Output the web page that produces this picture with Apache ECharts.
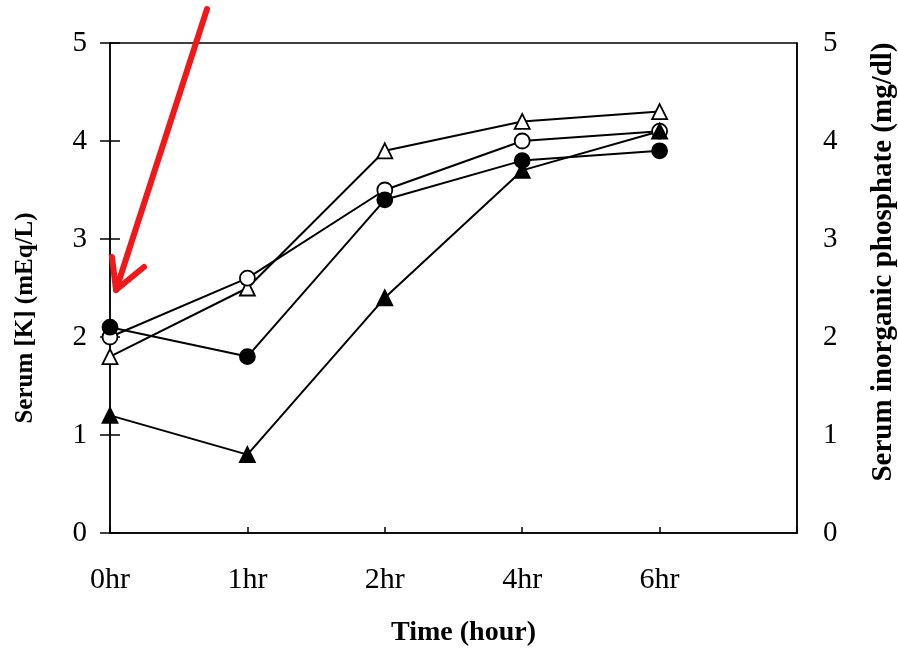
<!DOCTYPE html>
<html><head><meta charset="utf-8">
<script src="https://cdn.jsdelivr.net/npm/echarts@6/dist/echarts.min.js"></script>
<style>html,body{margin:0;padding:0;background:#fff}#c{width:898px;height:650px}</style>
</head><body><div id="c"></div>
<script>
var categories = ['0hr','1hr','2hr','4hr','6hr',''];
var openTriangle = [1.8, 2.5, 3.9, 4.2, 4.3];
var openCircle = [2.0, 2.6, 3.5, 4.0, 4.1];
var filledCircle = [2.1, 1.8, 3.4, 3.8, 3.9];
var filledTriangle = [1.2, 0.8, 2.4, 3.7, 4.1];
var yTicks = [0,1,2,3,4,5];

var font = '"Liberation Serif", "DejaVu Serif", serif';
function mk(name, data, symbol, filled) {
  return {
    name: name, type: 'line', data: data, symbol: symbol,
    symbolSize: 15,
    yAxisIndex: 0,
    lineStyle: {color: '#000', width: 2},
    itemStyle: {color: filled ? '#000' : '#fff', borderColor: '#000', borderWidth: 1.8},
    z: 3
  };
}
var chart = echarts.init(document.getElementById('c'));
chart.setOption({
  animation: false,
  backgroundColor: '#fff',
  grid: {left: 110, right: 101, top: 43, bottom: 117, outerBoundsMode: 'none', containLabel: false,
         show: true, borderColor: '#000', borderWidth: 1.5, backgroundColor: 'transparent'},
  xAxis: {
    type: 'category', data: categories, boundaryGap: false,
    axisLine: {lineStyle: {color: '#000', width: 1.5}},
    axisTick: {inside: true, length: 6, lineStyle: {color: '#000', width: 1.5}},
    axisLabel: {color: '#000', fontFamily: font, fontSize: 30, margin: 32},
    name: 'Time (hour)', nameLocation: 'middle', nameGap: 86,
    nameTextStyle: {color: '#000', fontFamily: font, fontSize: 28, fontWeight: 'bold', padding: [0, 0, 0, 20]}
  },
  yAxis: [{
    type: 'value', min: 0, max: 5, interval: 1, position: 'left',
    axisLine: {show: true, lineStyle: {color: '#000', width: 1.5}},
    axisTick: {show: true, length: 10, lineStyle: {color: '#000', width: 1.5}},
    splitLine: {show: false},
    axisLabel: {color: '#000', fontFamily: font, fontSize: 29, margin: 23, formatter: function(v){return yTicks.indexOf(v) >= 0 ? String(v) : '';}},
    name: 'Serum [K] (mEq/L)', nameLocation: 'middle', nameGap: 72, nameRotate: 90,
    nameTextStyle: {color: '#000', fontFamily: font, fontSize: 25, fontWeight: 'bold', padding: [0, 0, 0, -60]}
  }, {
    type: 'value', min: 0, max: 5, interval: 1, position: 'right',
    axisLine: {show: true, lineStyle: {color: '#000', width: 1.5}},
    axisTick: {show: false},
    splitLine: {show: false},
    axisLabel: {color: '#000', fontFamily: font, fontSize: 29, margin: 26},
    name: 'Serum inorganic phosphate (mg/dl)', nameLocation: 'middle', nameGap: 72, nameRotate: 90,
    nameTextStyle: {color: '#000', fontFamily: font, fontSize: 29, fontWeight: 'bold', padding: [0, 0, 0, 52]}
  }, {
    type: 'value', min: 0, max: 5, interval: 1, position: 'left',
    axisLine: {show: false},
    axisTick: {show: true, inside: true, length: 10, lineStyle: {color: '#000', width: 1.5}},
    splitLine: {show: false},
    axisLabel: {show: false}
  }],
  series: [
    mk('open triangle', openTriangle, 'triangle', false),
    mk('open circle', openCircle, 'circle', false),
    mk('filled circle', filledCircle, 'circle', true),
    mk('filled triangle', filledTriangle, 'triangle', true)
  ],
  graphic: [
    {type: 'line', shape: {x1: 207, y1: 9, x2: 116, y2: 290}, style: {stroke: '#f01818', lineWidth: 6, lineCap: 'round'}, z: 100},
    {type: 'polyline', shape: {points: [[144, 267], [116, 290], [112, 257]]}, style: {stroke: '#f01818', lineWidth: 6, lineCap: 'round', lineJoin: 'round', fill: null}, z: 100}
  ]
});
</script></body></html>
